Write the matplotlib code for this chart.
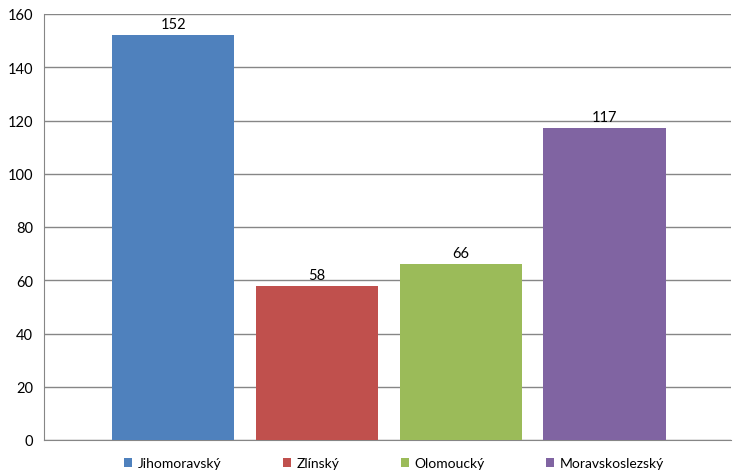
import matplotlib
matplotlib.use("Agg")
import matplotlib.pyplot as plt
from matplotlib.patches import Patch

regions = ["Jihomoravský", "Zlínský", "Olomoucký", "Moravskoslezský"]
counts = [152, 58, 66, 117]
colors = ["#4F81BD", "#C0504D", "#9BBB59", "#8064A2"]
yticks = [0, 20, 40, 60, 80, 100, 120, 140, 160]

plt.rcParams['font.family'] = ['Lato', 'DejaVu Sans']

fig = plt.figure(figsize=(7.34, 4.77), dpi=100)
ax = fig.add_axes([44 / 734, 36 / 477, 687 / 734, 426 / 477])

x = list(range(len(regions)))
bars = ax.bar(x, counts, width=0.85, color=colors, zorder=3)
for b, v in zip(bars, counts):
    ax.text(b.get_x() + b.get_width() / 2, v + 1.5, str(v),
            ha='center', va='bottom', fontsize=10.5, color='black')

ax.set_xlim(-0.898, 3.88)
ax.set_ylim(0, 160)
ax.set_yticks(yticks)
ax.set_xticks([])
ax.yaxis.grid(True, color='#868686', linewidth=1, zorder=0)
ax.tick_params(axis='y', length=0, labelsize=10.5, pad=8)
for s in ['top', 'right']:
    ax.spines[s].set_visible(False)
ax.spines['left'].set_color('#868686')
ax.spines['bottom'].set_color('#868686')

handles = [Patch(facecolor=c, label=r) for c, r in zip(colors, regions)]
fig.legend(handles=handles, loc='center', bbox_to_anchor=(394 / 734, 1 - 464 / 477),
           ncol=4, frameon=False, fontsize=10, handlelength=0.6, handleheight=0.6,
           handletextpad=0.4, columnspacing=4.4)

fig.savefig("out.png", dpi=100)
